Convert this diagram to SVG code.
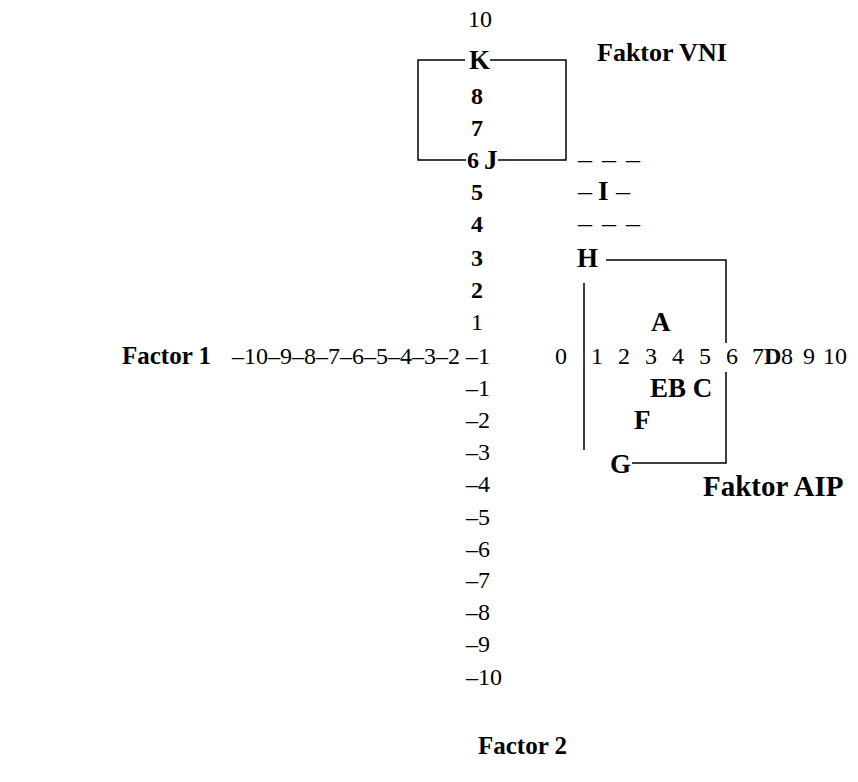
<svg xmlns="http://www.w3.org/2000/svg" width="858" height="782" viewBox="0 0 858 782">
<style>
text{font-family:"Liberation Serif","Times New Roman",serif;font-size:24px;fill:#000}
.b{font-weight:bold}
.L{font-weight:bold;font-size:27px}
.d{font-size:28px}
.ln{fill:none;stroke:#000;stroke-width:1.5}
</style>
<rect width="858" height="782" fill="#fff"/>
<g id="axis2">
<text x="468" y="27">10</text>
<text x="471" y="104" class="b">8</text>
<text x="471" y="136" class="b">7</text>
<text x="467" y="168" class="b">6</text>
<text x="471" y="200" class="b">5</text>
<text x="471" y="232" class="b">4</text>
<text x="471" y="266" class="b">3</text>
<text x="471" y="298" class="b">2</text>
<text x="471" y="330">1</text>
<text x="466" y="396">–1</text>
<text x="466" y="428">–2</text>
<text x="466" y="460">–3</text>
<text x="466" y="492">–4</text>
<text x="466" y="525">–5</text>
<text x="466" y="557">–6</text>
<text x="466" y="588">–7</text>
<text x="466" y="620">–8</text>
<text x="466" y="652">–9</text>
<text x="466" y="685">–10</text>
<text x="478" y="754" class="b" style="font-size:25px">Factor 2</text>
</g>
<g id="axis1">
<text x="122" y="364" class="b" style="font-size:25px">Factor 1</text>
<text x="232" y="364">–10–9–8–7–6–5–4–3–2 –1</text>
<text x="555" y="364">0</text>
<text y="364"><tspan x="591">1</tspan><tspan x="618">2</tspan><tspan x="645">3</tspan><tspan x="672">4</tspan><tspan x="699">5</tspan><tspan x="726">6</tspan><tspan x="752">7</tspan><tspan x="764" class="b">D</tspan><tspan x="781">8</tspan><tspan x="803">9</tspan><tspan x="823">10</tspan></text>
</g>
<g id="K"><text x="469" y="69" class="L">K</text></g>
<g id="J"><text x="484" y="169" class="L">J</text></g>
<g id="I"><text y="200" class="d"><tspan x="578">–</tspan><tspan x="598" class="L">I</tspan><tspan x="616">–</tspan></text></g>
<g id="dash1"><text y="168" class="d"><tspan x="578">–</tspan><tspan x="602">–</tspan><tspan x="626">–</tspan></text></g>
<g id="dash2"><text y="232" class="d"><tspan x="578">–</tspan><tspan x="602">–</tspan><tspan x="626">–</tspan></text></g>
<g id="H"><text x="577" y="267" class="L">H</text></g>
<g id="A"><text x="651" y="331" class="L">A</text></g>
<g id="EBC"><text x="650" y="397" class="L">EB C</text></g>
<g id="F"><text x="634" y="429" class="L">F</text></g>
<g id="G"><text x="610" y="473" class="L">G</text></g>
<g id="vni"><text x="597" y="61" class="b" style="font-size:26px">Faktor VNI</text></g>
<g id="aip"><text x="703" y="496" class="b" style="font-size:29px">Faktor AIP</text></g>
<g id="connectors">
<path class="ln" d="M465 60 H418 V160 H466"/>
<path class="ln" d="M490 60 H566 V160 H498"/>
<path class="ln" d="M606 260 H726 V343"/>
<path class="ln" d="M726 372 V463 H632"/>
<path class="ln" d="M584 283 V450"/>
</g>
</svg>
